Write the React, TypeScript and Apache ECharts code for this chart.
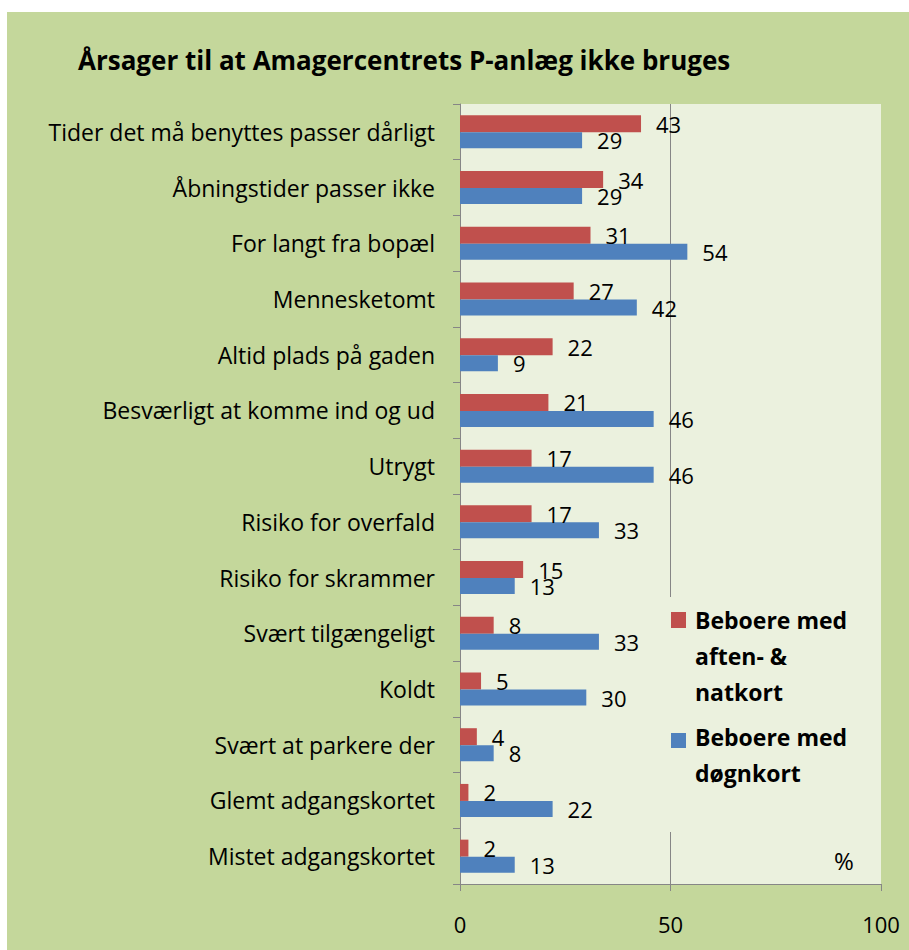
import React, { useEffect, useRef } from "react";
import * as echarts from "echarts";

const titleText = "Årsager til at Amagercentrets P-anlæg ikke bruges";
const categories = [
  "Tider det må benyttes passer dårligt",
  "Åbningstider passer ikke",
  "For langt fra bopæl",
  "Mennesketomt",
  "Altid plads på gaden",
  "Besværligt at komme ind og ud",
  "Utrygt",
  "Risiko for overfald",
  "Risiko for skrammer",
  "Svært tilgængeligt",
  "Koldt",
  "Svært at parkere der",
  "Glemt adgangskortet",
  "Mistet adgangskortet",
];
const eveningNight = [43, 34, 31, 27, 22, 21, 17, 17, 15, 8, 5, 4, 2, 2];
const dayCard = [29, 29, 54, 42, 9, 46, 46, 33, 13, 33, 30, 8, 22, 13];
const seriesNames = ["Beboere med aften- & natkort", "Beboere med døgnkort"];
const legendLines = ["Beboere med\naften- &\nnatkort", "Beboere med\ndøgnkort"];
const axisMin = 0;
const axisMax = 100;
const axisStep = 50;
const unitText = "%";

const RED = "#c0504d";
const BLUE = "#4f81bd";
const PLOT_BG = "#ebf1de";
const OUTER_BG = "#c4d79b";
const AXIS = "#868686";
const FONT = "'Open Sans', 'Liberation Sans', sans-serif";

export default function App() {
  const ref = useRef<HTMLDivElement>(null);
  useEffect(() => {
    if (!ref.current) return;
    const chart = echarts.init(ref.current, undefined, { renderer: "svg" });
    const labelStyle = {
      show: true,
      position: "right" as const,
      distance: 15,
      color: "#000",
      fontFamily: FONT,
      fontSize: 22,
    };
    chart.setOption({
      animation: false,
      backgroundColor: "transparent",
      textStyle: { fontFamily: FONT },
      title: {
        text: titleText,
        left: 73,
        top: 42,
        textStyle: { fontFamily: FONT, fontSize: 26, fontWeight: "bold", color: "#000" },
      },
      grid: {
        left: 460,
        right: 28,
        top: 104,
        bottom: 66,
        show: true,
        backgroundColor: PLOT_BG,
        borderWidth: 0,
      },
      xAxis: {
        type: "value",
        min: axisMin,
        max: axisMax,
        interval: axisStep,
        axisLine: { show: true, lineStyle: { color: AXIS, width: 1 } },
        axisTick: { show: true, length: 7, lineStyle: { color: AXIS } },
        axisLabel: { color: "#000", fontFamily: FONT, fontSize: 22, margin: 29 },
        splitLine: { show: true, showMinLine: false, showMaxLine: false, lineStyle: { color: AXIS, width: 1 } },
      },
      yAxis: {
        type: "category",
        data: categories,
        inverse: true,
        axisLine: { show: true, lineStyle: { color: AXIS, width: 1 } },
        axisTick: { show: true, length: 7, lineStyle: { color: AXIS } },
        axisLabel: { color: "#000", fontFamily: FONT, fontSize: 23, margin: 25 },
      },
      series: [
        {
          name: seriesNames[0],
          type: "bar",
          data: eveningNight,
          barWidth: 17,
          barGap: "0%",
          itemStyle: { color: RED },
          label: labelStyle,
        },
        {
          name: seriesNames[1],
          type: "bar",
          data: dayCard,
          barWidth: 16,
          barGap: "0%",
          itemStyle: { color: BLUE },
          label: labelStyle,
        },
      ],
      graphic: [
        { type: "rect", z: 1, shape: { x: 660, y: 597, width: 220, height: 235 }, style: { fill: PLOT_BG } },
        { type: "rect", z: 3, shape: { x: 671, y: 612, width: 15, height: 16 }, style: { fill: RED } },
        {
          type: "text",
          z: 3,
          x: 695,
          y: 602,
          style: {
            text: legendLines[0],
            fill: "#000",
            font: `bold 23px ${FONT}`,
            lineHeight: 36,
            verticalAlign: "top",
          },
        },
        { type: "rect", z: 3, shape: { x: 671, y: 733, width: 15, height: 15 }, style: { fill: BLUE } },
        {
          type: "text",
          z: 3,
          x: 695,
          y: 719,
          style: {
            text: legendLines[1],
            fill: "#000",
            font: `bold 23px ${FONT}`,
            lineHeight: 36,
            verticalAlign: "top",
          },
        },
        {
          type: "text",
          z: 3,
          x: 834,
          y: 860,
          style: {
            text: unitText,
            fill: "#000",
            font: `24px ${FONT}`,
            verticalAlign: "middle",
          },
        },
      ],
    });
    return () => chart.dispose();
  }, []);
  return (
    <div style={{ position: "absolute", left: 0, top: 0, width: 909, height: 950, background: "#fff" }}>
      <div style={{ position: "absolute", left: 7, top: 12, right: 0, bottom: 0, background: OUTER_BG }} />
      <div ref={ref} style={{ position: "absolute", left: 0, top: 0, width: 909, height: 950 }} />
    </div>
  );
}
